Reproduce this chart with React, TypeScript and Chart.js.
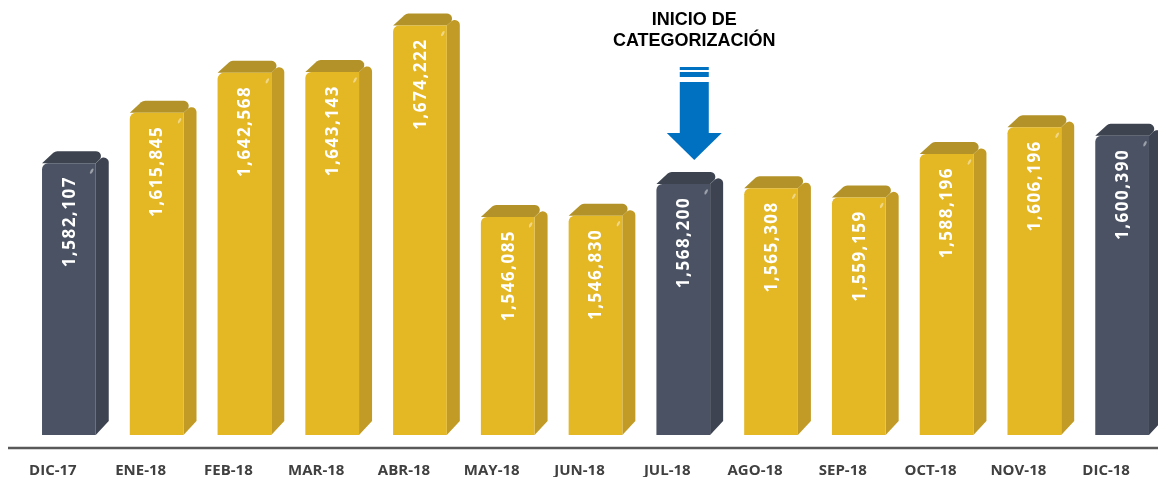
import React, { useEffect, useRef } from "react";
import { Chart, registerables } from "chart.js";

Chart.register(...registerables);

const categories = ["DIC-17", "ENE-18", "FEB-18", "MAR-18", "ABR-18", "MAY-18", "JUN-18", "JUL-18", "AGO-18", "SEP-18", "OCT-18", "NOV-18", "DIC-18"];
const values = [1582107, 1615845, 1642568, 1643143, 1674222, 1546085, 1546830, 1568200, 1565308, 1559159, 1588196, 1606196, 1600390];
const highlighted = ["DIC-17", "JUL-18", "DIC-18"];
const annotationLines = ["INICIO DE", "CATEGORIZACIÓN"];
const annotationCategory = "JUL-18";

const GOLD = { front: "#E4B725", side: "#C29B27", top: "#B39329" };
const SLATE = { front: "#4A5263", side: "#3D4351", top: "#3E444F" };

const SHIFT = 16;
const DX = 13;
const DY = 12;

const bars3d = {
  id: "bars3d",
  beforeDatasetDraw(chart: any, args: any) {
    const ctx = chart.ctx;
    ctx.save();
    ctx.translate(SHIFT, 0);
    const meta = chart.getDatasetMeta(args.index);
    const base = chart.scales.y.bottom;
    meta.data.forEach((bar: any, i: number) => {
      const x = bar.x;
      const y = bar.y;
      const width = bar.width;
      const left = x - width / 2;
      const right = x + width / 2;
      const pal = highlighted.includes(categories[i]) ? SLATE : GOLD;
      // side face
      ctx.beginPath();
      ctx.moveTo(right, y);
      ctx.arcTo(right + DX, y - DY, right + DX, base - DY, 5);
      ctx.lineTo(right + DX, base - DY - 2);
      ctx.lineTo(right, base);
      ctx.closePath();
      ctx.fillStyle = pal.side;
      ctx.fill();
      // top face
      ctx.beginPath();
      ctx.moveTo(left, y);
      ctx.arcTo(left + DX, y - DY, right + DX, y - DY, 6);
      ctx.arcTo(right + DX, y - DY, right, y, 5);
      ctx.lineTo(right, y);
      ctx.closePath();
      ctx.fillStyle = pal.top;
      ctx.fill();
    });
  },
  afterDatasetDraw(chart: any, args: any) {
    const ctx = chart.ctx;
    const meta = chart.getDatasetMeta(args.index);
    meta.data.forEach((bar: any, i: number) => {
      const x = bar.x;
      const y = bar.y;
      const right = x + bar.width / 2;
      // specular highlight
      ctx.save();
      ctx.fillStyle = "rgba(255,255,255,0.45)";
      ctx.beginPath();
      ctx.ellipse(right - 4, y + 8, 1.2, 3, 0.5, 0, Math.PI * 2);
      ctx.fill();
      ctx.restore();
      // value label
      ctx.save();
      ctx.translate(x, y + 13);
      ctx.rotate(-Math.PI / 2);
      (ctx as any).letterSpacing = "1.5px";
      ctx.font = "bold 17px 'Open Sans'";
      ctx.fillStyle = "#FFFFFF";
      ctx.textAlign = "right";
      ctx.textBaseline = "middle";
      ctx.fillText(values[i].toLocaleString("en-US"), 0, 1);
      ctx.restore();
    });
    ctx.restore();
  },
  afterDraw(chart: any) {
    const ctx = chart.ctx;
    const area = chart.chartArea;
    // axis line
    ctx.save();
    ctx.strokeStyle = "#595959";
    ctx.lineWidth = 2.5;
    ctx.beginPath();
    ctx.moveTo(8, area.bottom + 13);
    ctx.lineTo(chart.width, area.bottom + 13);
    ctx.stroke();
    ctx.restore();

    // annotation
    const xs = chart.scales.x;
    const cx = xs.getPixelForValue(categories.indexOf(annotationCategory)) + 27;
    ctx.save();
    ctx.fillStyle = "#000000";
    ctx.font = "bold 18px 'Liberation Sans'";
    ctx.textAlign = "center";
    ctx.textBaseline = "middle";
    ctx.fillText(annotationLines[0], cx, 20);
    ctx.fillText(annotationLines[1], cx, 41);

    ctx.fillStyle = "#0070C0";
    ctx.fillRect(cx - 14.5, 67, 29, 3);
    ctx.fillRect(cx - 14.5, 72, 29, 5);
    ctx.fillRect(cx - 14.5, 82, 29, 52);
    ctx.beginPath();
    ctx.moveTo(cx - 27.5, 133);
    ctx.lineTo(cx + 27.5, 133);
    ctx.lineTo(cx, 160);
    ctx.closePath();
    ctx.fill();
    ctx.restore();
  },
};

export default function App() {
  const canvasRef = useRef<HTMLCanvasElement | null>(null);

  useEffect(() => {
    if (!canvasRef.current) return;
    const chart = new Chart(canvasRef.current, {
      type: "bar",
      data: {
        labels: categories,
        datasets: [
          {
            data: values,
            backgroundColor: categories.map((c) => (highlighted.includes(c) ? SLATE.front : GOLD.front)),
            borderRadius: { topLeft: 6, topRight: 0, bottomLeft: 6, bottomRight: 0 },
            borderSkipped: false,
            categoryPercentage: 1,
            barPercentage: 0.612,
          },
        ],
      },
      options: {
        responsive: false,
        animation: false,
        layout: { padding: { top: 14, left: 9, right: 2, bottom: 0 } },
        plugins: { legend: { display: false }, tooltip: { enabled: false }, title: { display: false } },
        scales: {
          y: { display: false, min: 1400000, max: 1682000 },
          x: {
            grid: { display: false, drawTicks: false },
            border: { display: false },
            afterFit: (scale: any) => {
              scale.height = 42;
            },
            ticks: {
              color: "#404040",
              padding: 28,
              font: { family: "'Open Sans'", weight: "bold", size: 15, lineHeight: 1 },
              maxRotation: 0,
              autoSkip: false,
            },
          },
        },
      },
      plugins: [bars3d],
    });
    return () => chart.destroy();
  }, []);

  return (
    <div style={{ position: "fixed", left: 0, top: 0, width: 1158, height: 477, background: "#FFFFFF" }}>
      <canvas ref={canvasRef} width={1158} height={477} />
    </div>
  );
}
